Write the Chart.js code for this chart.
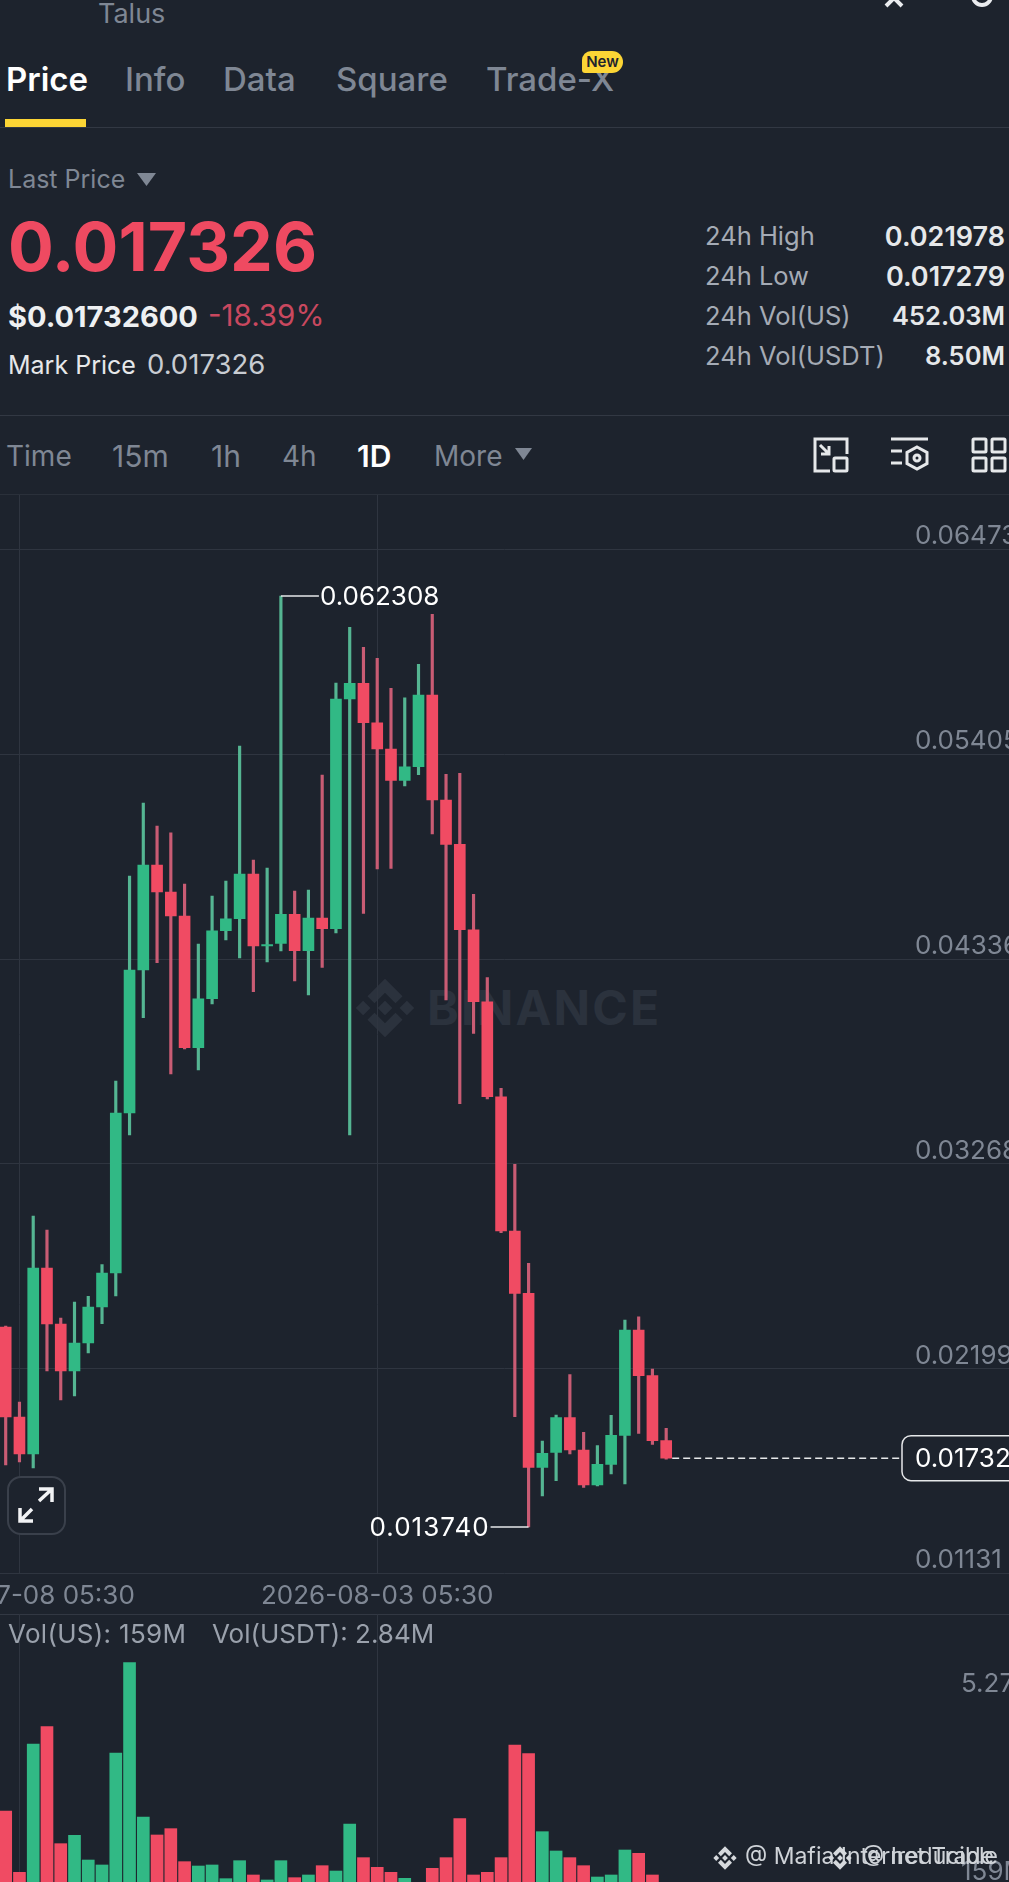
<!DOCTYPE html>
<html>
<head>
<meta charset="utf-8">
<title>Talus 1D</title>
<script src="https://cdn.jsdelivr.net/npm/chart.js@4"></script>
<style>
  html, body { margin: 0; padding: 0; background: #1d232d; }
  body { position: relative; width: 1009px; height: 1882px; overflow: hidden; font-family: Inter, "Noto Sans", sans-serif; color: #848e9c; }
  canvas { position: absolute; left: 0; display: block; }
  .t { position: absolute; line-height: 1; white-space: nowrap; transform: translateY(-50%); }
  .r { right: 4px; text-align: right; color: #e6e8ea; font-weight: 600; font-size: 25.5px; }
  .hr { position: absolute; left: 0; width: 1009px; height: 1px; background: #323843; }
  .tab { font-size: 33px; font-weight: 500; top: 79px; color: #7f8794; }
  .stat { font-size: 25.5px; left: 705px; color: #a5abb5; }
  .iv { font-size: 28px; top: 456px; color: #7f8794; }
  svg { position: absolute; overflow: visible; }
</style>
</head>
<body>
<svg width="0" height="0" style="position:absolute">
  <symbol id="bn" viewBox="0 0 24 24">
    <path d="M12 9.5l2.5 2.5-2.5 2.5-2.5-2.5zM4.5 9.5L7 12l-2.5 2.5L2 12zM19.5 9.5L22 12l-2.5 2.5L17 12zM12 2l6 6-2.4 2.4L12 6.8l-3.6 3.6L6 8zM12 22l-6-6 2.4-2.4 3.6 3.6 3.6-3.6L18 16z"/>
  </symbol>
</svg>

<div class="t" style="left:98px;top:13px;font-size:27px;color:#7f8794">Talus</div>
<svg style="left:880px;top:-12px" width="28" height="20" fill="none" stroke="#eaecef" stroke-width="4"><path d="M2 0l12 9 12-9M6 18l8-8 8 8"/></svg>
<svg style="left:972px;top:-12px" width="20" height="20" fill="none" stroke="#eaecef" stroke-width="4"><circle cx="10" cy="8" r="9"/></svg>

<div class="t tab" style="left:6px;color:#fff;font-weight:600">Price</div>
<div class="t tab" style="left:125px">Info</div>
<div class="t tab" style="left:223px">Data</div>
<div class="t tab" style="left:336px">Square</div>
<div class="t tab" style="left:486px">Trade-X</div>
<div class="t" style="left:582px;top:62px;width:41px;height:22px;line-height:22px;text-align:center;background:#fcd535;border-radius:9px 11px 11px 3px;color:#1d232d;font-size:15px;font-weight:600">New</div>
<div style="position:absolute;left:5px;top:119px;width:81px;height:8px;background:#fcd535"></div>
<div class="hr" style="top:127px"></div>

<div class="t" style="left:8px;top:179px;font-size:25px;color:#7f8794">Last Price</div>
<svg style="left:137px;top:173px" width="20" height="14" fill="#7f8794"><path d="M0 0h19l-9.5 13z"/></svg>
<div class="t" style="left:8px;top:246px;font-size:68px;font-weight:700;color:#ef4a61">0.017326</div>
<div class="t" style="left:8px;top:316px;font-size:29px;font-weight:700;color:#eef0f2">$0.01732600</div>
<div class="t" style="left:208px;top:316px;font-size:29.5px;color:#c9485f">-18.39%</div>
<div class="t" style="left:8px;top:365px;font-size:25px;color:#e6e8ea">Mark Price</div>
<div class="t" style="left:147px;top:365px;font-size:27.5px;color:#c8ccd2">0.017326</div>

<div class="t stat" style="top:236px">24h High</div><div class="t r" style="top:236px;font-size:27px">0.021978</div>
<div class="t stat" style="top:276px">24h Low</div><div class="t r" style="top:276px;font-size:27px">0.017279</div>
<div class="t stat" style="top:316px">24h Vol(US)</div><div class="t r" style="top:316px">452.03M</div>
<div class="t stat" style="top:356px">24h Vol(USDT)</div><div class="t r" style="top:356px">8.50M</div>

<div class="hr" style="top:415px"></div>
<div class="t iv" style="left:6px">Time</div>
<div class="t iv" style="left:112px;font-size:30px">15m</div>
<div class="t iv" style="left:211px;font-size:30px">1h</div>
<div class="t iv" style="left:282px">4h</div>
<div class="t iv" style="left:357px;font-size:30px;color:#fff;font-weight:600">1D</div>
<div class="t iv" style="left:434px">More</div>
<svg style="left:515px;top:448px" width="18" height="13" fill="#7f8794"><path d="M0 0h17l-8.5 12z"/></svg>

<svg style="left:813px;top:437px" width="36" height="36" fill="none" stroke="#e6e8ea" stroke-width="3">
  <path d="M17 34H2V2h32v15M7 8l9 9M16 9v8H8"/><rect x="21" y="21" width="13" height="13" rx="1"/>
</svg>
<svg style="left:890px;top:437px" width="40" height="36" fill="none" stroke="#e6e8ea" stroke-width="3">
  <path d="M1 2h37M1 14h11M1 26h11M27 10l10 5.5v11L27 32l-10-5.5v-11z"/><circle cx="27" cy="21" r="3"/>
</svg>
<svg style="left:971px;top:437px" width="36" height="36" fill="none" stroke="#e6e8ea" stroke-width="3">
  <rect x="2" y="2" width="13" height="13" rx="1"/><rect x="21" y="2" width="13" height="13" rx="1"/>
  <rect x="2" y="21" width="13" height="13" rx="1"/><rect x="21" y="21" width="13" height="13" rx="1"/>
</svg>
<div class="hr" style="top:494px;background:#2a303a"></div>

<!-- faint logo behind the candles -->
<svg style="left:350px;top:973px" width="70" height="70" fill="#2b323d"><use href="#bn"/></svg>
<div class="t" style="left:427px;top:1008px;font-size:48px;font-weight:700;letter-spacing:2.2px;color:#2b323d">BINANCE</div>

<canvas id="price" width="1009" height="1119" style="top:495px"></canvas>
<div class="hr" style="top:1614px"></div>
<canvas id="vol" width="1009" height="277" style="top:1614px"></canvas>

<div style="position:absolute;left:7px;top:1476px;width:55px;height:55px;border:2px solid #3a404b;border-radius:14px;background:#1d232d"></div>
<svg style="left:18px;top:1487px" width="36" height="36" fill="none" stroke="#f2f3f5" stroke-width="3.5">
  <path d="M21 14L34 2M21 2h13v13M14 22L2 34M2 21v13h13"/>
</svg>

<div class="t" style="left:8px;top:1634px;font-size:26px;letter-spacing:.3px;color:#9aa1ac">Vol(US): 159M</div>
<div class="t" style="left:212px;top:1634px;font-size:26px;color:#9aa1ac">Vol(USDT): 2.84M</div>

<svg style="left:711px;top:1844px" width="28" height="28" fill="#d6d9dd"><use href="#bn"/></svg>
<div class="t" style="left:745px;top:1856px;font-size:23px;color:#cfd3d8">@ Mafia Internet Trade</div>
<svg style="left:826px;top:1844px" width="28" height="28" fill="#d6d9dd"><use href="#bn"/></svg>
<div class="t" style="left:862px;top:1856px;font-size:23px;color:#cfd3d8">@ Ireducible</div>

<script>
// 1D candles, oldest first
const dates = ['2026-07-07','2026-07-08','2026-07-09','2026-07-10','2026-07-11','2026-07-12','2026-07-13','2026-07-14',
  '2026-07-15','2026-07-16','2026-07-17','2026-07-18','2026-07-19','2026-07-20','2026-07-21','2026-07-22','2026-07-23',
  '2026-07-24','2026-07-25','2026-07-26','2026-07-27','2026-07-28','2026-07-29','2026-07-30','2026-07-31','2026-08-01',
  '2026-08-02','2026-08-03','2026-08-04','2026-08-05','2026-08-06','2026-08-07','2026-08-08','2026-08-09','2026-08-10',
  '2026-08-11','2026-08-12','2026-08-13','2026-08-14','2026-08-15','2026-08-16','2026-08-17','2026-08-18','2026-08-19',
  '2026-08-20','2026-08-21','2026-08-22','2026-08-23','2026-08-24'];

const opens = [0.024171,0.019475,0.017545,0.027249,0.024327,0.021875,0.023336,0.025214,0.026988,0.035336,
  0.042796,0.048275,0.046866,0.045614,0.038743,0.041299,0.044847,0.045473,0.047805,0.044049,
  0.044189,0.045702,0.043803,0.045509,0.044951,0.056935,0.057754,0.055699,0.054327,0.052694,
  0.053403,0.057144,0.051666,0.049355,0.044899,0.041142,0.036186,0.029179,0.025929,0.016851,
  0.017633,0.019439,0.017753,0.015927,0.017007,0.018520,0.024014,0.021630,0.018239];
const closes = [0.019475,0.017545,0.027249,0.024327,0.021875,0.023336,0.025214,0.026988,0.035336,0.042796,
  0.048275,0.046866,0.045614,0.038743,0.041299,0.044847,0.045473,0.047805,0.044049,0.044101,
  0.045702,0.043803,0.045509,0.044951,0.056935,0.057754,0.055699,0.054327,0.052694,0.053403,
  0.057144,0.051666,0.049355,0.044899,0.041142,0.036186,0.029179,0.025929,0.016851,0.017581,
  0.019439,0.017753,0.015927,0.017007,0.018520,0.024014,0.021630,0.018239,0.017326];
const highs = [0.024223,0.020258,0.029962,0.029231,0.024640,0.025475,0.025767,0.027426,0.037005,0.047701,
  0.051509,0.050310,0.049960,0.047283,0.044153,0.046657,0.047440,0.054483,0.048535,0.048118,
  0.062308,0.046918,0.046970,0.052970,0.057770,0.060676,0.059633,0.059059,0.057494,0.057003,
  0.058746,0.061354,0.053007,0.053059,0.046746,0.042405,0.036624,0.032659,0.027494,0.018223,
  0.019579,0.021682,0.018677,0.017978,0.019564,0.024536,0.024708,0.021978,0.018886];
const lows = [0.016971,0.017127,0.016814,0.021875,0.020362,0.020571,0.022814,0.024348,0.025788,0.034188,
  0.040308,0.043177,0.037370,0.038675,0.037579,0.041022,0.044362,0.043423,0.041664,0.043214,
  0.043788,0.042223,0.041492,0.042937,0.044727,0.034188,0.045755,0.048066,0.048103,0.052396,
  0.052986,0.049892,0.041231,0.035826,0.039494,0.036066,0.029091,0.019491,0.013740,0.015353,
  0.016152,0.017545,0.015807,0.015875,0.016501,0.015979,0.018625,0.018051,0.017279];

// volume in millions (US units)
const volumes = [2174,507,3995,4466,1286,1513,842,707,3750,6205,
  2011,1522,1694,797,679,707,335,824,435,299,
  824,362,435,688,543,1821,906,643,507,344,
  200,616,906,1966,435,507,906,3967,3732,1612,
  1087,906,688,380,435,1114,1024,435,159];

const priceTicks = [0.01131,0.021995,0.03268,0.043365,0.05405,0.064735];
const volumeTicks = [159,5270];
const dateTicks = [1,27];
const highIndex = 20, lowIndex = 38, lastPrice = 0.017326;

const GREEN = '#31b985', RED = '#f04b63', GREEN_WICK = '#55b592', RED_WICK = '#c95c74';
const GRID = '#2f3540', AXIS_TEXT = '#7f8794', BG = '#1d232d';

const isUp = function(i) { return closes[i] >= opens[i]; };
const bodyColors = opens.map(function(o, i) { return isUp(i) ? GREEN : RED; });
const wickColors = opens.map(function(o, i) { return isUp(i) ? GREEN_WICK : RED_WICK; });

function noPadding(scale) {
  scale.paddingTop = scale.paddingBottom = scale.paddingLeft = scale.paddingRight = 0;
}

function dateAxis(showLabels) {
  return {
    type: 'linear',
    offset: false,
    min: -0.4142,
    max: 72.913,
    afterBuildTicks: function(scale) {
      scale.ticks = dateTicks.map(function(v) { return { value: v }; });
    },
    afterFit: function(scale) {
      noPadding(scale);
      scale.height = showLabels ? 40.5 : 0;
    },
    border: { display: false },
    grid: { color: GRID, offset: false, drawTicks: false, lineWidth: 1 },
    ticks: {
      display: showLabels,
      autoSkip: false,
      maxRotation: 0,
      padding: 7,
      color: AXIS_TEXT,
      font: { family: 'Inter', size: 26 },
      callback: function(v) { return dates[v] + ' 05:30'; }
    }
  };
}

function valueAxis(min, max, ticks, labelX, gridColor, fmt) {
  return {
    position: 'left',
    min: min,
    max: max,
    afterBuildTicks: function(scale) {
      scale.ticks = ticks.map(function(v) { return { value: v }; });
    },
    afterFit: function(scale) {
      noPadding(scale);
      scale.width = 0;
    },
    border: { display: false },
    grid: { color: gridColor, drawTicks: false },
    ticks: {
      mirror: true,
      crossAlign: 'near',
      padding: labelX,
      labelOffset: -13,
      autoSkip: false,
      color: AXIS_TEXT,
      font: { family: 'Inter', size: 26 },
      callback: fmt
    }
  };
}

// high / low call-outs and the last price tag
const markers = {
  id: 'markers',
  afterDatasetsDraw: function(chart) {
    const ctx = chart.ctx, x = chart.scales.x, y = chart.scales.y;
    ctx.save();
    ctx.font = '26px Inter';
    ctx.textBaseline = 'middle';
    ctx.fillStyle = '#fff';
    ctx.strokeStyle = '#e6e8ea';
    ctx.lineWidth = 1.5;

    const hx = x.getPixelForValue(highIndex), hy = y.getPixelForValue(highs[highIndex]);
    ctx.beginPath(); ctx.moveTo(hx, hy); ctx.lineTo(hx + 38, hy); ctx.stroke();
    ctx.textAlign = 'left';
    ctx.fillText(highs[highIndex].toFixed(6), hx + 39, hy + 1);

    const lx = x.getPixelForValue(lowIndex), ly = y.getPixelForValue(lows[lowIndex]);
    ctx.beginPath(); ctx.moveTo(lx, ly); ctx.lineTo(lx - 38, ly); ctx.stroke();
    ctx.textAlign = 'right';
    ctx.letterSpacing = '1px';
    ctx.fillText(lows[lowIndex].toFixed(6), lx - 39, ly + 1);
    ctx.letterSpacing = '0px';

    const py = y.getPixelForValue(lastPrice), px = x.getPixelForValue(closes.length - 1);
    ctx.setLineDash([7, 4]);
    ctx.beginPath(); ctx.moveTo(px + 6, py); ctx.lineTo(902, py); ctx.stroke();
    ctx.setLineDash([]);
    ctx.fillStyle = BG;
    ctx.beginPath(); ctx.roundRect(902, py - 22.5, 130, 45, 9); ctx.fill(); ctx.stroke();
    ctx.fillStyle = '#fff';
    ctx.textAlign = 'left';
    ctx.fillText(lastPrice.toFixed(6), 915, py + 1);
    ctx.restore();
  }
};

new Chart(document.getElementById('price'), {
  type: 'bar',
  plugins: [markers],
  data: {
    datasets: [
      {
        data: opens.map(function(o, i) { return { x: i, y: [o, closes[i]] }; }),
        backgroundColor: bodyColors,
        barThickness: 11,
        minBarLength: 1.5,
        grouped: false
      },
      {
        data: opens.map(function(o, i) { return { x: i, y: [lows[i], highs[i]] }; }),
        backgroundColor: wickColors,
        barThickness: 2.5,
        grouped: false
      }
    ]
  },
  options: {
    responsive: false,
    animation: false,
    devicePixelRatio: 1,
    layout: { padding: 0 },
    plugins: { legend: { display: false }, tooltip: { enabled: false } },
    scales: {
      x: dateAxis(true),
      y: valueAxis(0.01131, 0.06758, priceTicks, 915, GRID, function(v) { return String(v).slice(0, 7); })
    }
  }
});

new Chart(document.getElementById('vol'), {
  type: 'bar',
  data: {
    datasets: [{
      data: volumes.map(function(v, i) { return { x: i, y: v }; }),
      backgroundColor: bodyColors,
      barThickness: 12,
      grouped: false
    }]
  },
  options: {
    responsive: false,
    animation: false,
    devicePixelRatio: 1,
    layout: { padding: 0 },
    plugins: { legend: { display: false }, tooltip: { enabled: false } },
    scales: {
      x: dateAxis(false),
      y: valueAxis(0, 7527, volumeTicks, 961, 'transparent', function(v) {
        return v < 1000 ? v + 'M' : (v / 1000).toFixed(2) + 'B';
      })
    }
  }
});
</script>
</body>
</html>
